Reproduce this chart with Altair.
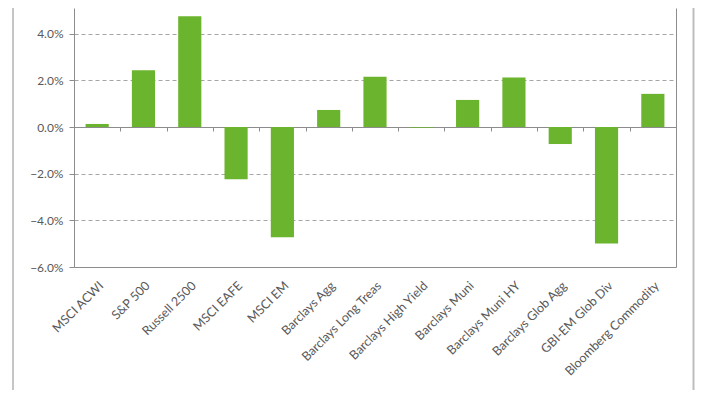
import altair as alt
import pandas as pd

categories = ["MSCI ACWI", "S&P 500", "Russell 2500", "MSCI EAFE", "MSCI EM",
              "Barclays Agg", "Barclays Long Treas", "Barclays High Yield",
              "Barclays Muni", "Barclays Muni HY", "Barclays Glob Agg",
              "GBI-EM Glob Div", "Bloomberg Commodity"]
returns = [0.13, 2.43, 4.75, -2.24, -4.72, 0.73, 2.15, -0.03, 1.16, 2.12, -0.73, -4.99, 1.42]
y_ticks = [-6, -4, -2, 0, 2, 4]

df = pd.DataFrame({"cat": categories, "ret": returns})
one = pd.DataFrame({"k": [0]})

W, H = 602, 259
Y_MIN, Y_MAX = -6, 5.1
step = W / len(categories)
zero_px = (Y_MAX - 0) / (Y_MAX - Y_MIN) * H
FONT = "Lato"
TXT = "#595959"
LINE = "#8C8C8C"

xscale = alt.Scale(paddingInner=0.5, paddingOuter=0.25)
yscale = alt.Scale(domain=[Y_MIN, Y_MAX], nice=False, zero=False)

bars = alt.Chart(df).mark_bar(color="#6BB42D").encode(
    x=alt.X("cat:N", sort=categories, scale=xscale,
            axis=alt.Axis(title=None, orient="bottom", labelAngle=-45, ticks=False,
                          domainColor=LINE, labelFont=FONT, labelFontSize=12.5,
                          labelColor=TXT, labelPadding=12)),
    y=alt.Y("ret:Q", scale=yscale,
            axis=alt.Axis(title=None, orient="left", values=y_ticks,
                          labelExpr="format(datum.value, '.1f') + '%'",
                          grid=True, gridDash=[4, 3], gridColor="#A6A6A6",
                          domainColor=LINE, tickColor=LINE, tickSize=5,
                          labelPadding=6, labelFont=FONT, labelFontSize=12,
                          labelColor=TXT)),
)

frame = alt.Chart(df).mark_rule(opacity=0).encode(
    x=alt.X("cat:N", sort=categories, scale=xscale,
            axis=alt.Axis(title=None, orient="bottom", labels=False,
                          domainColor=LINE, tickColor=LINE, tickSize=4,
                          tickOffset=step / 2, offset=-(H - zero_px))),
    y=alt.Y("ret:Q", scale=yscale,
            axis=alt.Axis(title=None, orient="right", labels=False, ticks=False,
                          grid=False, domainColor=LINE)),
)

left_line = alt.Chart(one).mark_rule(color="#8C8C8C", strokeWidth=1).encode(
    x=alt.value(-61), y=alt.value(-8), y2=alt.value(392))
right_line = alt.Chart(one).mark_rule(color="#BDBDBD", strokeWidth=2).encode(
    x=alt.value(619.5), y=alt.value(-8), y2=alt.value(392))

chart = alt.layer(bars, frame, left_line, right_line).resolve_axis(
    x="independent", y="independent"
).properties(
    width=W, height=H,
    autosize=alt.AutoSizeParams(type="none"),
    padding={"left": 66, "top": 0, "right": 24, "bottom": 123},
    background="white",
).configure_view(strokeWidth=0)

chart.save("out.html", embed_options={"renderer": "svg", "actions": False})
